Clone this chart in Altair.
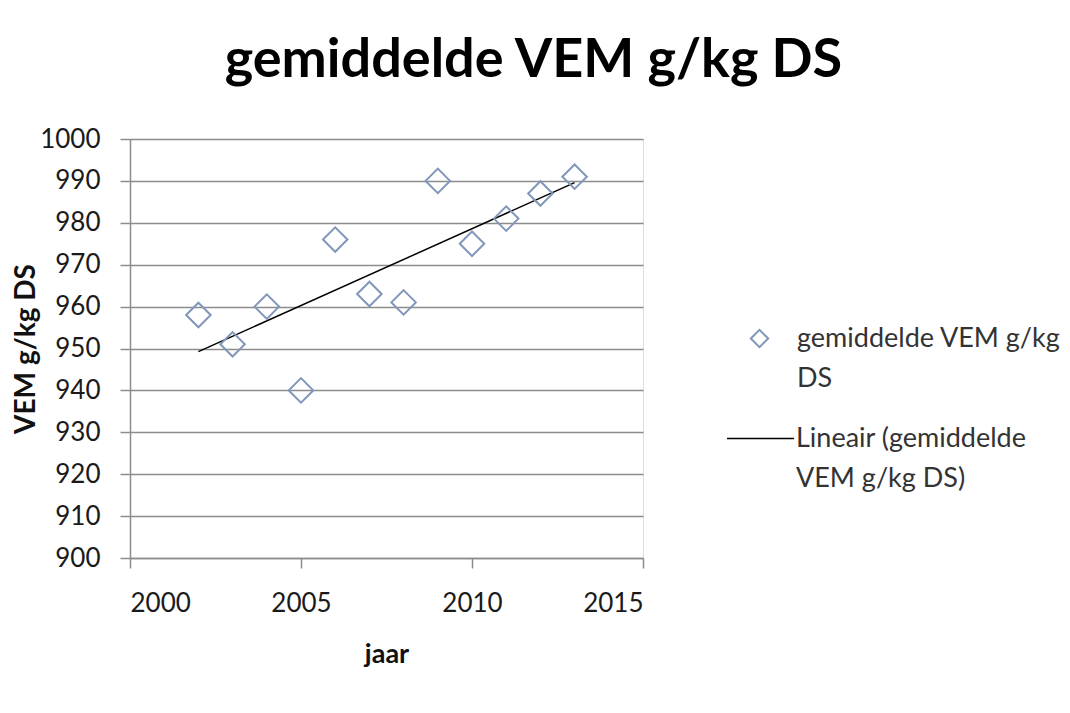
import altair as alt
import pandas as pd

# ---- data ----
years = [2002, 2003, 2004, 2005, 2006, 2007, 2008, 2009, 2010, 2011, 2012, 2013]
vem = [958, 951, 960, 940, 976, 963, 961, 990, 975, 981, 987, 991]
series_points = "gemiddelde VEM g/kg DS"
series_trend = "Lineair (gemiddelde VEM g/kg DS)"
x_ticks = [2000, 2005, 2010, 2015]
y_ticks = [900, 910, 920, 930, 940, 950, 960, 970, 980, 990, 1000]

df = pd.DataFrame({"jaar": years, "vem": vem, "serie": [series_points] * len(years)})

W, H = 513, 419
PAD_L, PAD_T = 122, 131
TOTAL_W, TOTAL_H = 1054, 697
FONT = "Lato"
GRID = "#8c8c8c"
LABEL_DY = 8  # shared label shift (used to line up the wrapped legend labels)

x_scale = alt.Scale(domain=[2000, 2015], nice=False, zero=False)
y_scale = alt.Scale(domain=[900, 1000], nice=False, zero=False)

x_axis = alt.Axis(
    values=x_ticks, format="d", title="jaar", grid=False,
    domainColor=GRID, domainWidth=1.5, tickColor=GRID, tickWidth=1.5, tickSize=10,
    labelFont=FONT, labelFontSize=26, labelColor="#1a1a1a", labelPadding=22 - LABEL_DY,
    titleFont=FONT, titleFontSize=27, titleFontWeight="bold", titleColor="#111",
    titlePadding=25,
)
y_axis = alt.Axis(
    values=y_ticks, format="d", title="VEM g/kg DS", grid=True, gridColor=GRID, gridWidth=1.5,
    domainColor=GRID, domainWidth=1.5, tickColor=GRID, tickWidth=1.5, tickSize=10,
    labelFont=FONT, labelFontSize=26, labelColor="#1a1a1a", labelPadding=20,
    labelOffset=-LABEL_DY,
    titleFont=FONT, titleFontSize=28, titleFontWeight="bold", titleColor="#111",
    titleAngle=270, titleBaseline="alphabetic", titleX=-96, titleY=H / 2,
    titleAlign="center",
)

points = alt.Chart(df).mark_point(
    filled=False, size=600, strokeWidth=2, color="#8196B8", opacity=1
).encode(
    x=alt.X("jaar:Q", scale=x_scale, axis=x_axis),
    y=alt.Y("vem:Q", scale=y_scale, axis=y_axis),
    shape=alt.Shape(
        "serie:N",
        scale=alt.Scale(domain=[series_points], range=["diamond"]),
        legend=alt.Legend(
            title=None, orient="none", legendX=616, legendY=186, padding=0,
            symbolSize=300, symbolStrokeWidth=2, symbolStrokeColor="#8196B8",
            symbolFillColor="transparent",
            labelFont=FONT, labelFontSize=27, labelColor="#333", labelOffset=24,
            labelLimit=2000, labelBaseline="alphabetic",
            labelExpr="['gemiddelde VEM g/kg', 'DS']",
        ),
    ),
)

trend = alt.Chart(df).transform_regression(
    "jaar", "vem"
).transform_calculate(
    serie=f"'{series_trend}'"
).mark_line(strokeWidth=1.5).encode(
    x=alt.X("jaar:Q", scale=x_scale),
    y=alt.Y("vem:Q", scale=y_scale),
    color=alt.Color(
        "serie:N",
        scale=alt.Scale(domain=[series_trend], range=["#000000"]),
        legend=alt.Legend(
            title=None, orient="none", legendX=596, legendY=265, padding=0,
            symbolType="stroke", symbolSize=4489, symbolStrokeWidth=1.5,
            labelFont=FONT, labelFontSize=27, labelColor="#333", labelOffset=1,
            labelLimit=2000, labelBaseline="alphabetic",
            labelExpr="['Lineair (gemiddelde', 'VEM g/kg DS)']",
        ),
    ),
)

chart = alt.layer(trend, points).properties(
    width=W, height=H,
    autosize=alt.AutoSizeParams(type="none"),
    padding={"left": PAD_L, "top": PAD_T, "right": TOTAL_W - PAD_L - W, "bottom": TOTAL_H - PAD_T - H},
    title=alt.TitleParams(
        "gemiddelde VEM g/kg DS", font=FONT, fontSize=54, fontWeight="bold",
        color="#000", anchor="middle", frame="group", dx=147, baseline="alphabetic",
        offset=45, dy=50,
    ),
).configure_view(stroke=None).configure(
    background="white",
    style={"guide-label": {"lineHeight": 40, "dy": LABEL_DY}},
)

chart.save("out.html", embed_options={"renderer": "svg", "actions": False})
